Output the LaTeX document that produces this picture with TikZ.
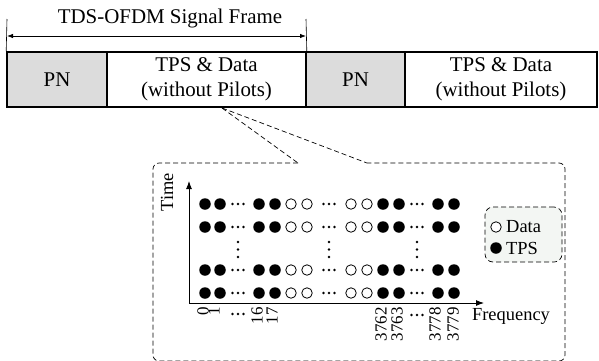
\documentclass[tikz,border=0pt]{standalone}
\usepackage{fontspec}
\setmainfont{Liberation Serif}
\usetikzlibrary{arrows.meta}
\definecolor{pngray}{RGB}{220,220,220}
\definecolor{legfill}{RGB}{243,246,243}
\begin{document}
\begin{tikzpicture}[x=1bp,y=-1bp,
  framebox/.style={draw,line width=1.6bp,minimum height=55bp,inner sep=0pt,
    font=\fontsize{21}{25}\selectfont,align=center},
  pnbox/.style={framebox,fill=pngray},
  dotf/.style={circle,fill=black,inner sep=0pt,minimum size=11.5bp},
  doto/.style={circle,draw=black,line width=0.8bp,fill=white,inner sep=0pt,minimum size=10.5bp},
  lbl/.style={font=\fontsize{18.5}{20}\selectfont,inner sep=0pt},
  numlbl/.style={font=\fontsize{17}{17}\selectfont,inner sep=0pt,rotate=90,anchor=east},
  dashline/.style={dash pattern=on 5bp off 3bp,line width=0.7bp},
  axisarrow/.style={line width=0.9bp,-{Latex[length=8bp,width=6bp]}},
  minidot/.style={circle,fill=black,inner sep=0pt,minimum size=2.8bp}]
\useasboundingbox (0,0) rectangle (599,360);

% frame row
\node[pnbox,minimum width=100bp] (pn1) at (57,79.5) {PN};
\node[framebox,minimum width=199bp] (tps1) at (206.5,79.5) {TPS \& Data\\(without Pilots)};
\node[pnbox,minimum width=99bp] (pn2) at (355.5,79.5) {PN};
\node[framebox,minimum width=192bp] (tps2) at (501,79.5) {TPS \& Data\\(without Pilots)};

% frame dimension
\coordinate (tl) at (7,19);
\coordinate (tr) at (306,19);
\coordinate (al) at (7,36);
\coordinate (ar) at (306,36);
\draw[line width=0.6bp] (tl) -- (pn1.north west);
\draw[line width=0.6bp] (tr) -- (tps1.north east);
\draw[line width=0.8bp,{Latex[length=6bp,width=4.5bp]}-{Latex[length=6bp,width=4.5bp]}] (al) -- (ar);
\node[font=\fontsize{21}{25}\selectfont,inner sep=0pt] (title) at (170,18) {TDS-OFDM Signal Frame};

% magnifier
\coordinate (apex) at (222,108);
\coordinate (m1) at (298,163);
\coordinate (m2) at (367,163);
\draw[dashline,rounded corners=6bp] (m1) -- (153,163) -- (153,361) -- (565,361) -- (565,163) -- (m2);
\draw[dashline] (apex) -- (m1);
\draw[dashline] (apex) -- (m2);

% axes
\coordinate (O) at (189,303);
\coordinate (ytip) at (189,181);
\coordinate (xtip) at (484,303);
\draw[axisarrow] (O) -- (ytip);
\draw[axisarrow] (O) -- (xtip);
\node[lbl,rotate=90] (time) at (167,192) {Time};
\node[lbl] (freq) at (511,316) {Frequency};

% subcarrier grid
\foreach \y [count=\r] in {204,227,270,293} {
  \foreach \x [count=\c] in {205,220,259,275,383,399,438,454}
    \node[dotf] (f\r-\c) at (\x,\y) {};
  \foreach \x [count=\c] in {291,307,351,367}
    \node[doto] (o\r-\c) at (\x,\y) {};
  \foreach \x [count=\c] in {238,329,417} {
    \node[minidot] (h\r-\c-a) at (\x-5.5,\y) {};
    \node[minidot] (h\r-\c-b) at (\x,\y) {};
    \node[minidot] (h\r-\c-c) at (\x+5.5,\y) {};
  }
}
\foreach \x [count=\c] in {238,329,417} {
  \node[minidot] (v\c-a) at (\x,242) {};
  \node[minidot] (v\c-b) at (\x,249.5) {};
  \node[minidot] (v\c-c) at (\x,257) {};
}

% frequency labels
\node[numlbl] (n0) at (203,307) {0};
\node[numlbl] (n1) at (214,307) {1};
\node[numlbl] (n16) at (257,307) {16};
\node[numlbl] (n17) at (272,307) {17};
\node[numlbl] (n3762) at (381,307) {3762};
\node[numlbl] (n3763) at (397,307) {3763};
\node[numlbl] (n3778) at (435,307) {3778};
\node[numlbl] (n3779) at (453,307) {3779};
\foreach \x/\yy [count=\c] in {238/314,417/315} {
  \node[minidot] (l\c-a) at (\x-5.5,\yy) {};
  \node[minidot] (l\c-b) at (\x,\yy) {};
  \node[minidot] (l\c-c) at (\x+5.5,\yy) {};
}

% legend
\node[draw,dashline,rounded corners=8bp,fill=legfill,minimum width=77bp,minimum height=55bp,inner sep=0pt] (leg) at (523.5,234.5) {};
\node[doto] (lo) at (496,227) {};
\node[dotf] (lf) at (496,248) {};
\node[lbl,anchor=west] (ld) at (506,226.5) {Data};
\node[lbl,anchor=west] (lt) at (506,248.5) {TPS};
\end{tikzpicture}
\end{document}
